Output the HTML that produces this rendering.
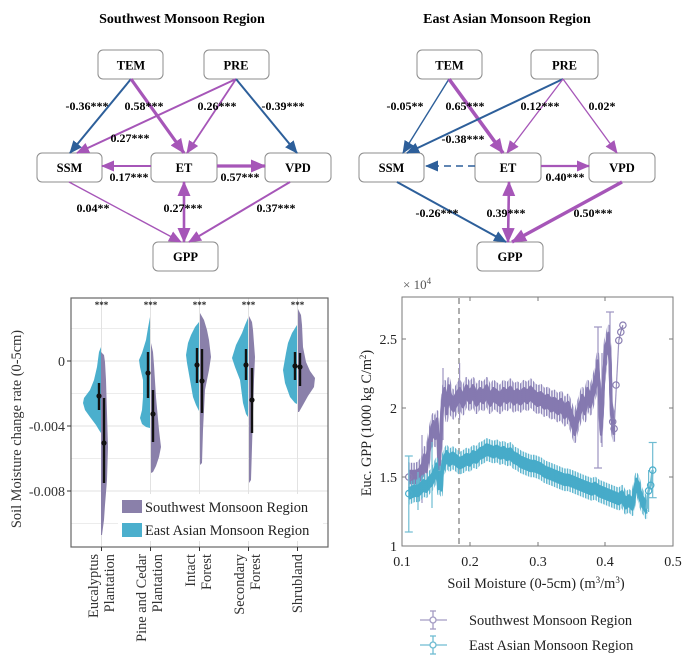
<!DOCTYPE html>
<html><head><meta charset="utf-8">
<style>
html,body{margin:0;padding:0;background:#fff;}
svg{display:block;}
text{font-family:"Liberation Serif",serif;}
</style></head><body>
<svg width="700" height="657" viewBox="0 0 700 657" xmlns="http://www.w3.org/2000/svg" xmlns:xlink="http://www.w3.org/1999/xlink">
<defs>
<marker id="pL" markerUnits="userSpaceOnUse" markerWidth="15" markerHeight="13" refX="14" refY="6.5" orient="auto-start-reverse"><path d="M0,0 L15,6.5 L0,13 z" fill="#a656b8"/></marker>
<marker id="pM" markerUnits="userSpaceOnUse" markerWidth="13" markerHeight="11" refX="12" refY="5.5" orient="auto-start-reverse"><path d="M0,0 L13,5.5 L0,11 z" fill="#a656b8"/></marker>
<marker id="bM" markerUnits="userSpaceOnUse" markerWidth="13" markerHeight="11" refX="12" refY="5.5" orient="auto"><path d="M0,0 L13,5.5 L0,11 z" fill="#2d5f9a"/></marker>
<pattern id="vs" x="0" y="0" width="2.6" height="10" patternUnits="userSpaceOnUse"><rect x="0" y="0" width="1.5" height="10" fill="#fff"/></pattern>
<mask id="stripes" maskUnits="userSpaceOnUse" x="0" y="0" width="700" height="657"><rect x="0" y="0" width="700" height="657" fill="url(#vs)"/></mask>
<polyline id="pp" fill="none" stroke-linejoin="round" points="408.8,477 412.2,477 415.6,477 418.9,475.6 422.3,470.1 424.4,460.4 426.4,466 429.1,446.6 431.1,435.6 433.2,427.3 435.2,432.8 437.2,424.6 439.3,463.2 440.6,442.5 442.7,401.1 444.7,394.2 446.7,408 448.7,391.4 450.8,401.1 453.5,405.2 456.2,399.7 459.6,394.2 463,401.1 466.4,391.4 469.8,396.9 473.1,391.4 476.5,399.7 479.9,394.2 483.3,396.9 486.7,391.4 490.1,399.7 493.5,394.2 496.9,396.9 500.2,399.7 503.6,394.2 507,396.9 510.4,392.8 513.8,398.3 517.2,395.6 520.6,398.3 523.9,394.2 527.3,396.9 530.7,392.8 534.1,396.9 537.5,399.7 540.9,398.3 544.3,402.5 547.7,401.1 551.1,405.2 554.4,403.9 557.8,408 561.2,405.2 564.6,412.1 568,408 571.4,417.7 574.8,428.7 576.8,419 579.5,410.8 582.2,401.1 584.9,408 587.6,394.2 590.3,401.1 593.1,391.4 595.8,380.4 597.8,366.6 599.8,401.1 601.2,428.7 603.2,387.3 605.3,352.8 607.3,345.9 608.6,339 610,359.7 611.3,408 612.7,421.8 614.1,428.7"/>
<polyline id="cp" fill="none" stroke-linejoin="round" points="408.8,493.6 414.2,490.8 418.3,490.8 421,488 423.7,485.3 426.4,486.7 429.1,482.5 431.8,479.8 434.5,474.2 436.6,468.7 438.6,483.9 439.9,477 441.3,485.3 442.7,466 444.7,460.4 446.7,456.3 449.4,460.4 452.8,457.7 456.2,460.4 459.6,463.2 463,461.8 466.4,459.1 469.8,460.4 473.1,456.3 476.5,457.7 479.9,453.5 483.3,452.2 486.7,449.4 490.1,450.8 493.5,452.2 496.9,450.8 500.2,453.5 503.6,452.2 507,454.9 510.4,453.5 513.8,457.7 517.2,459.1 520.6,461.8 523.9,463.2 527.3,464.6 530.7,466 534.1,466 537.5,467.3 540.9,468.7 544.3,471.5 547.7,472.9 551.1,474.2 554.4,475.6 557.8,477 561.2,478.4 564.6,479.8 568,479.8 571.4,481.1 574.8,482.5 578.2,483.9 581.5,485.3 584.9,486.7 588.3,488 591.7,489.4 595.1,488 598.5,490.8 601.9,492.2 605.3,493.6 608.6,494.9 612,496.3 615.4,497.7 618.8,499.1 622.2,496.3 625.6,503.2 629,500.5 632.4,504.6 634.4,493.6 636.4,483.9 638.5,488 640.5,496.3 642.5,501.8 644.6,504.6 646.6,508.7"/>
</defs>
<rect width="700" height="657" fill="#fff"/>

<!-- ===== Titles ===== -->
<text x="182" y="23" font-size="14" font-weight="bold" text-anchor="middle">Southwest Monsoon Region</text>
<text x="507" y="23" font-size="14" font-weight="bold" text-anchor="middle">East Asian Monsoon Region</text>

<!-- ===== diagram boxes ===== -->
<g fill="#fff" stroke="#8c8c8c" stroke-width="1">
<rect x="98" y="50" width="65" height="29" rx="5"/>
<rect x="204" y="50" width="65" height="29" rx="5"/>
<rect x="37" y="153" width="65" height="29" rx="5"/>
<rect x="151" y="153" width="66" height="29" rx="5"/>
<rect x="265" y="153" width="66" height="29" rx="5"/>
<rect x="153" y="242" width="65" height="29" rx="5"/>
<rect x="417" y="50" width="65" height="29" rx="5"/>
<rect x="531" y="50" width="67" height="29" rx="5"/>
<rect x="359" y="153" width="65" height="29" rx="5"/>
<rect x="475" y="153" width="66" height="29" rx="5"/>
<rect x="589" y="153" width="66" height="29" rx="5"/>
<rect x="477" y="242" width="66" height="29" rx="5"/>
</g>
<g font-size="12.5" font-weight="bold" text-anchor="middle">
<text x="131" y="69.5">TEM</text>
<text x="236" y="69.5">PRE</text>
<text x="69.5" y="172">SSM</text>
<text x="184" y="172">ET</text>
<text x="298" y="172">VPD</text>
<text x="185.5" y="261">GPP</text>
<text x="449.5" y="69.5">TEM</text>
<text x="564.5" y="69.5">PRE</text>
<text x="391.5" y="172">SSM</text>
<text x="508" y="172">ET</text>
<text x="622" y="172">VPD</text>
<text x="510" y="261">GPP</text>
</g>

<!-- SW arrows -->
<line x1="131" y1="79" x2="70" y2="153" stroke="#2d5f9a" stroke-width="2" marker-end="url(#bM)"/>
<line x1="131" y1="79" x2="184" y2="153" stroke="#a656b8" stroke-width="3.2" marker-end="url(#pL)"/>
<line x1="236" y1="79" x2="77" y2="153" stroke="#a656b8" stroke-width="2" marker-end="url(#pM)"/>
<line x1="236" y1="79" x2="187" y2="153" stroke="#a656b8" stroke-width="1.8" marker-end="url(#pM)"/>
<line x1="236" y1="79" x2="297" y2="153" stroke="#2d5f9a" stroke-width="2" marker-end="url(#bM)"/>
<line x1="151" y1="166" x2="102" y2="166" stroke="#a656b8" stroke-width="2" marker-end="url(#pM)"/>
<line x1="217" y1="166" x2="265" y2="166" stroke="#a656b8" stroke-width="3.2" marker-end="url(#pL)"/>
<line x1="69" y1="182" x2="181" y2="242" stroke="#a656b8" stroke-width="1.4" marker-end="url(#pM)"/>
<line x1="184" y1="182" x2="184" y2="242" stroke="#a656b8" stroke-width="2.6" marker-start="url(#pL)" marker-end="url(#pL)"/>
<line x1="290" y1="182" x2="189" y2="242" stroke="#a656b8" stroke-width="2" marker-end="url(#pM)"/>

<!-- EA arrows -->
<line x1="449" y1="79" x2="403" y2="153" stroke="#2d5f9a" stroke-width="1.4" marker-end="url(#bM)"/>
<line x1="449" y1="79" x2="503" y2="153" stroke="#a656b8" stroke-width="3.6" marker-end="url(#pL)"/>
<line x1="563" y1="79" x2="407" y2="153" stroke="#2d5f9a" stroke-width="2" marker-end="url(#bM)"/>
<line x1="563" y1="79" x2="507" y2="153" stroke="#a656b8" stroke-width="1.3" marker-end="url(#pM)"/>
<line x1="563" y1="79" x2="617" y2="153" stroke="#a656b8" stroke-width="1.3" marker-end="url(#pM)"/>
<line x1="475" y1="166" x2="426" y2="166" stroke="#2d5f9a" stroke-width="1.6" stroke-dasharray="7 5" marker-end="url(#bM)"/>
<line x1="541" y1="166" x2="589" y2="166" stroke="#a656b8" stroke-width="2.2" marker-end="url(#pM)"/>
<line x1="397" y1="182" x2="506" y2="242" stroke="#2d5f9a" stroke-width="2" marker-end="url(#bM)"/>
<line x1="509" y1="182" x2="508" y2="242" stroke="#a656b8" stroke-width="2.6" marker-start="url(#pL)" marker-end="url(#pL)"/>
<line x1="622" y1="182" x2="512" y2="242" stroke="#a656b8" stroke-width="3.4" marker-end="url(#pL)"/>

<!-- path labels -->
<g font-size="12" font-weight="bold" text-anchor="middle">
<text x="87" y="110">-0.36***</text>
<text x="144" y="110">0.58***</text>
<text x="217" y="110">0.26***</text>
<text x="283" y="110">-0.39***</text>
<text x="130" y="142">0.27***</text>
<text x="129" y="181">0.17***</text>
<text x="240" y="181">0.57***</text>
<text x="93" y="212">0.04**</text>
<text x="183" y="212">0.27***</text>
<text x="276" y="212">0.37***</text>
<text x="405" y="110">-0.05**</text>
<text x="465" y="110">0.65***</text>
<text x="540" y="110">0.12***</text>
<text x="602" y="110">0.02*</text>
<text x="463" y="143">-0.38***</text>
<text x="565" y="181">0.40***</text>
<text x="437" y="217">-0.26***</text>
<text x="506" y="217">0.39***</text>
<text x="593" y="217">0.50***</text>
</g>

<!-- ===== Bottom-left violin panel ===== -->
<g stroke-width="1">
<g stroke="#ececec">
<line x1="71" y1="328.5" x2="328" y2="328.5"/>
<line x1="71" y1="393.5" x2="328" y2="393.5"/>
<line x1="71" y1="458.5" x2="328" y2="458.5"/>
<line x1="71" y1="523.5" x2="328" y2="523.5"/>
</g>
<g stroke="#e2e2e2">
<line x1="71" y1="361" x2="328" y2="361"/>
<line x1="71" y1="426" x2="328" y2="426"/>
<line x1="71" y1="491" x2="328" y2="491"/>
<line x1="101.5" y1="298" x2="101.5" y2="547"/>
<line x1="150.5" y1="298" x2="150.5" y2="547"/>
<line x1="199.5" y1="298" x2="199.5" y2="547"/>
<line x1="248.5" y1="298" x2="248.5" y2="547"/>
<line x1="297.5" y1="298" x2="297.5" y2="547"/>
</g>
</g>

<g fill="#4bafcd">
<path d="M101,347 L99,352 97,367 94,380 90,390 84,398 83,403 85,410 90,417 96,425 99,430 101,433 Z"/>
<path d="M150,317 L148,328 146,340 142,353 139,360 140,367 143,380 143,397 142,410 140,418 142,424 146,427 150,428 Z"/>
<path d="M199,322 L195,327 191,335 188,343 186,355 187,363 190,380 193,397 196,405 199,411 Z"/>
<path d="M248,318 L245,325 242,333 236,345 232,358 235,367 240,380 243,403 246,414 248,417 Z"/>
<path d="M297,325 L292,333 288,343 286,353 283,370 285,383 290,397 295,403 297,404 Z"/>
</g>
<g fill="#8a80aa">
<path d="M101,352 L104,355 105,362 106,380 107,413 108,447 107,480 105,505 104,520 102,535 101,535 Z"/>
<path d="M151,343 L153,352 154,365 156,397 159,430 161,447 159,457 156,466 153,472 151,473 Z"/>
<path d="M200,313 L204,320 207,330 209,340 211,357 209,370 205,390 204,410 203,430 202,463 200,465 Z"/>
<path d="M249,316 L252,322 253,330 255,357 254,380 253,413 252,447 251,480 249,483 Z"/>
<path d="M298,309 L301,315 302,325 303,347 306,362 310,371 315,378 314,387 308,396 303,405 299,412 298,412 Z"/>
</g>
<g stroke="#111" stroke-width="2.4">
<line x1="99" y1="383" x2="99" y2="410"/>
<line x1="104" y1="398" x2="104" y2="483"/>
<line x1="148" y1="352" x2="148" y2="398"/>
<line x1="153" y1="390" x2="153" y2="442"/>
<line x1="197" y1="348" x2="197" y2="383"/>
<line x1="202" y1="349" x2="202" y2="413"/>
<line x1="246" y1="349" x2="246" y2="380"/>
<line x1="252" y1="368" x2="252" y2="433"/>
<line x1="295" y1="352" x2="295" y2="380"/>
<line x1="300" y1="353" x2="300" y2="386"/>
</g>
<g fill="#111">
<circle cx="99" cy="396" r="2.6"/>
<circle cx="104" cy="443" r="2.6"/>
<circle cx="148" cy="373" r="2.6"/>
<circle cx="153" cy="414" r="2.6"/>
<circle cx="197" cy="365" r="2.6"/>
<circle cx="202" cy="381" r="2.6"/>
<circle cx="246" cy="365" r="2.6"/>
<circle cx="252" cy="400" r="2.6"/>
<circle cx="295" cy="366" r="2.6"/>
<circle cx="300" cy="367" r="2.6"/>
</g>
<g font-size="9" font-weight="bold" text-anchor="middle" fill="#222">
<text x="101.5" y="308">***</text>
<text x="150.5" y="308">***</text>
<text x="199.5" y="308">***</text>
<text x="248.5" y="308">***</text>
<text x="297.5" y="308">***</text>
</g>
<!-- legend -->
<rect x="118" y="494" width="205" height="47" fill="#fff"/>
<rect x="122" y="500" width="20" height="13" fill="#8a80aa"/>
<rect x="122" y="523" width="20" height="14" fill="#4bafcd"/>
<text x="145" y="512" font-size="14.4" fill="#222">Southwest Monsoon Region</text>
<text x="145" y="535" font-size="14.4" fill="#222">East Asian Monsoon Region</text>
<rect x="71" y="298" width="257" height="249" fill="none" stroke="#666" stroke-width="1.2"/>
<g stroke="#333" stroke-width="1">
<line x1="67" y1="361" x2="71" y2="361"/>
<line x1="67" y1="426" x2="71" y2="426"/>
<line x1="67" y1="491" x2="71" y2="491"/>
<line x1="101.5" y1="547" x2="101.5" y2="551"/>
<line x1="150.5" y1="547" x2="150.5" y2="551"/>
<line x1="199.5" y1="547" x2="199.5" y2="551"/>
<line x1="248.5" y1="547" x2="248.5" y2="551"/>
<line x1="297.5" y1="547" x2="297.5" y2="551"/>
</g>
<g font-size="14" text-anchor="end" fill="#333">
<text x="65" y="366">0</text>
<text x="65" y="431">-0.004</text>
<text x="65" y="496">-0.008</text>
</g>
<text transform="translate(21,429) rotate(-90)" font-size="14.4" text-anchor="middle" fill="#333">Soil Moisture change rate (0-5cm)</text>
<g font-size="14.4" text-anchor="end" fill="#333">
<text transform="translate(98,554) rotate(-90)">Eucalyptus</text>
<text transform="translate(114,554) rotate(-90)">Plantation</text>
<text transform="translate(146,554) rotate(-90)">Pine and Cedar</text>
<text transform="translate(162,554) rotate(-90)">Plantation</text>
<text transform="translate(195,554) rotate(-90)">Intact</text>
<text transform="translate(211,554) rotate(-90)">Forest</text>
<text transform="translate(244,554) rotate(-90)">Secondary</text>
<text transform="translate(260,554) rotate(-90)">Forest</text>
<text transform="translate(302,554) rotate(-90)">Shrubland</text>
</g>

<!-- ===== Bottom-right scatter panel ===== -->
<line x1="459" y1="298" x2="459" y2="546" stroke="#9a9a9a" stroke-width="1.6" stroke-dasharray="6 4"/>

<!-- purple error bars (striped vertical band) -->
<g mask="url(#stripes)" stroke="#9088bb" stroke-width="2.6">
<use xlink:href="#pp" href="#pp" transform="translate(0,-13)"/>
<use xlink:href="#pp" href="#pp" transform="translate(0,-11)"/>
<use xlink:href="#pp" href="#pp" transform="translate(0,-9)"/>
<use xlink:href="#pp" href="#pp" transform="translate(0,-7)"/>
<use xlink:href="#pp" href="#pp" transform="translate(0,-5)"/>
<use xlink:href="#pp" href="#pp" transform="translate(0,-3)"/>
<use xlink:href="#pp" href="#pp" transform="translate(0,0)"/>
<use xlink:href="#pp" href="#pp" transform="translate(0,3)"/>
<use xlink:href="#pp" href="#pp" transform="translate(0,5)"/>
<use xlink:href="#pp" href="#pp" transform="translate(0,7)"/>
<use xlink:href="#pp" href="#pp" transform="translate(0,9)"/>
<use xlink:href="#pp" href="#pp" transform="translate(0,11)"/>
<use xlink:href="#pp" href="#pp" transform="translate(0,13)"/>
</g>
<!-- extra purple error bars -->
<g stroke="#9d94c0" stroke-width="1.2">
<line x1="408.8" y1="462" x2="408.8" y2="492"/>
<line x1="422" y1="435" x2="422" y2="503"/>
<line x1="443" y1="368" x2="443" y2="440"/>
<line x1="459.6" y1="363" x2="459.6" y2="420"/>
<line x1="598" y1="327" x2="598" y2="468"/>
<line x1="594" y1="327" x2="602" y2="327"/>
<line x1="594" y1="468" x2="602" y2="468"/>
<line x1="602" y1="353" x2="602" y2="447"/>
<line x1="610" y1="312" x2="610" y2="360"/>
<line x1="606" y1="312" x2="614" y2="312"/>
<line x1="614.1" y1="428.7" x2="618.8" y2="340.4"/>
</g>
<!-- purple markers band -->
<g stroke="#8579b0" stroke-width="2.6">
<use xlink:href="#pp" href="#pp" transform="translate(0,-6)"/>
<use xlink:href="#pp" href="#pp" transform="translate(0,-4)"/>
<use xlink:href="#pp" href="#pp" transform="translate(0,-2)"/>
<use xlink:href="#pp" href="#pp" transform="translate(0,0)"/>
<use xlink:href="#pp" href="#pp" transform="translate(0,2)"/>
<use xlink:href="#pp" href="#pp" transform="translate(0,4)"/>
<use xlink:href="#pp" href="#pp" transform="translate(0,6)"/>
</g>
<g fill="none" stroke="#8a7fb2" stroke-width="1.2">
<circle cx="408.8" cy="477" r="3.2"/>
<circle cx="612.7" cy="421.8" r="3.2"/>
<circle cx="614.1" cy="428.7" r="3.2"/>
<circle cx="618.8" cy="340.4" r="3.2"/>
<circle cx="620.8" cy="332.1" r="3.2"/>
<circle cx="622.9" cy="325.2" r="3.2"/>
<circle cx="616" cy="385" r="3.2"/>
<polyline points="618.8,340.4 620.8,332.1 622.9,325.2"/>
</g>

<!-- cyan error bars -->
<g mask="url(#stripes)" stroke="#5fb6cf" stroke-width="2.6">
<use xlink:href="#cp" href="#cp" transform="translate(0,-10)"/>
<use xlink:href="#cp" href="#cp" transform="translate(0,-8)"/>
<use xlink:href="#cp" href="#cp" transform="translate(0,-6)"/>
<use xlink:href="#cp" href="#cp" transform="translate(0,-4)"/>
<use xlink:href="#cp" href="#cp" transform="translate(0,-2)"/>
<use xlink:href="#cp" href="#cp" transform="translate(0,0)"/>
<use xlink:href="#cp" href="#cp" transform="translate(0,2)"/>
<use xlink:href="#cp" href="#cp" transform="translate(0,4)"/>
<use xlink:href="#cp" href="#cp" transform="translate(0,6)"/>
<use xlink:href="#cp" href="#cp" transform="translate(0,8)"/>
<use xlink:href="#cp" href="#cp" transform="translate(0,10)"/>
</g>
<g stroke="#6fbcd2" stroke-width="1.2">
<line x1="408.8" y1="456" x2="408.8" y2="532"/>
<line x1="404.8" y1="532" x2="412.8" y2="532"/>
<line x1="404.8" y1="456" x2="412.8" y2="456"/>
<line x1="418" y1="472" x2="418" y2="510"/>
<line x1="432" y1="442" x2="432" y2="508"/>
<line x1="652.7" y1="442.5" x2="652.7" y2="497.7"/>
<line x1="648.7" y1="442.5" x2="656.7" y2="442.5"/>
<line x1="648.7" y1="497.7" x2="656.7" y2="497.7"/>
<line x1="648.6" y1="470" x2="648.6" y2="512"/>
</g>
<g stroke="#47abc9" stroke-width="2.6">
<use xlink:href="#cp" href="#cp" transform="translate(0,-5)"/>
<use xlink:href="#cp" href="#cp" transform="translate(0,-3)"/>
<use xlink:href="#cp" href="#cp" transform="translate(0,-1)"/>
<use xlink:href="#cp" href="#cp" transform="translate(0,1)"/>
<use xlink:href="#cp" href="#cp" transform="translate(0,3)"/>
<use xlink:href="#cp" href="#cp" transform="translate(0,5)"/>
</g>
<polyline fill="none" stroke="#6fbcd2" stroke-width="2.5" points="646.6,508.7 648.6,490.8 650.7,485.3 652.7,470.1"/>
<g fill="none" stroke="#4aaecb" stroke-width="1.2">
<circle cx="408.8" cy="493.6" r="3.2"/>
<circle cx="648.6" cy="490.8" r="3.2"/>
<circle cx="650.7" cy="485.3" r="3.2"/>
<circle cx="652.7" cy="470.1" r="3.2"/>
</g>

<!-- axes box -->
<rect x="402" y="297" width="271" height="249" fill="none" stroke="#7a7a7a" stroke-width="1"/>
<g stroke="#7a7a7a" stroke-width="1">
<line x1="470" y1="546" x2="470" y2="542"/><line x1="538" y1="546" x2="538" y2="542"/><line x1="605" y1="546" x2="605" y2="542"/>
<line x1="470" y1="297" x2="470" y2="301"/><line x1="538" y1="297" x2="538" y2="301"/><line x1="605" y1="297" x2="605" y2="301"/>
<line x1="402" y1="339" x2="406" y2="339"/><line x1="402" y1="408" x2="406" y2="408"/><line x1="402" y1="477" x2="406" y2="477"/>
<line x1="673" y1="339" x2="669" y2="339"/><line x1="673" y1="408" x2="669" y2="408"/><line x1="673" y1="477" x2="669" y2="477"/>
</g>
<g font-size="14" text-anchor="middle" fill="#222">
<text x="402" y="566">0.1</text>
<text x="470" y="566">0.2</text>
<text x="538" y="566">0.3</text>
<text x="605" y="566">0.4</text>
<text x="673" y="566">0.5</text>
</g>
<g font-size="14" text-anchor="end" fill="#222">
<text x="397" y="344">2.5</text>
<text x="397" y="413">2</text>
<text x="397" y="482">1.5</text>
<text x="397" y="551">1</text>
</g>
<text x="403" y="289" font-size="13" fill="#555">× 10<tspan font-size="9" dy="-5">4</tspan></text>
<text transform="translate(371,423) rotate(-90)" font-size="14.2" text-anchor="middle" fill="#222">Euc. GPP (1000 kg C/m<tspan font-size="9" dy="-5">2</tspan><tspan dy="5">)</tspan></text>
<text x="536" y="588" font-size="14.4" text-anchor="middle" fill="#222">Soil Moisture (0-5cm) (m<tspan font-size="9" dy="-5">3</tspan><tspan dy="5">/m</tspan><tspan font-size="9" dy="-5">3</tspan><tspan dy="5">)</tspan></text>

<!-- right legend -->
<g stroke="#a49cc4" stroke-width="1.3" fill="none">
<line x1="420" y1="620" x2="447" y2="620"/>
<line x1="433" y1="611" x2="433" y2="629"/>
<line x1="430" y1="611" x2="436" y2="611"/>
<line x1="430" y1="629" x2="436" y2="629"/>
<circle cx="433" cy="620" r="3" fill="#fff"/>
</g>
<g stroke="#6fbcd2" stroke-width="1.3" fill="none">
<line x1="420" y1="645" x2="447" y2="645"/>
<line x1="433" y1="636" x2="433" y2="654"/>
<line x1="430" y1="636" x2="436" y2="636"/>
<line x1="430" y1="654" x2="436" y2="654"/>
<circle cx="433" cy="645" r="3" fill="#fff"/>
</g>
<text x="469" y="625" font-size="14.4" fill="#222">Southwest Monsoon Region</text>
<text x="469" y="650" font-size="14.4" fill="#222">East Asian Monsoon Region</text>
</svg>
</body></html>
